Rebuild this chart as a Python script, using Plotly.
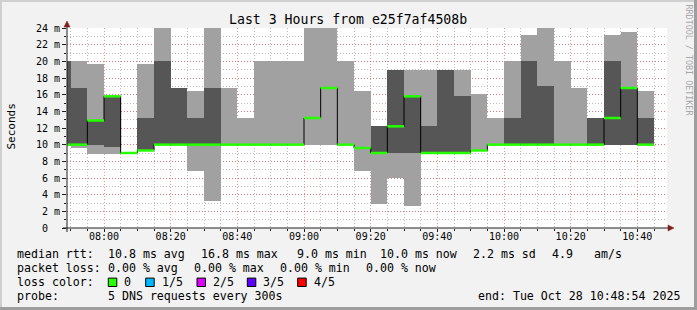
import plotly.graph_objects as go
from datetime import datetime, timedelta

# ---------------- data ----------------
DAY = "2025-10-28"
interval_starts = [
    "07:45", "07:50", "07:55", "08:00", "08:05", "08:10", "08:15", "08:20",
    "08:25", "08:30", "08:35", "08:40", "08:45", "08:50", "08:55", "09:00",
    "09:05", "09:10", "09:15", "09:20", "09:25", "09:30", "09:35", "09:40",
    "09:45", "09:50", "09:55", "10:00", "10:05", "10:10", "10:15", "10:20",
    "10:25", "10:30", "10:35", "10:40",
]
# sorted ping values per 5-minute step (ms): ping1 (min) .. ping5 (max)
ping1 = [10.0, 9.6, 8.9, 8.9, 9.0, 9.3, 10.0, 10.0, 6.8, 3.2, 10.0, 10.0,
         10.0, 10.0, 10.0, 10.0, 10.0, 10.0, 6.8, 2.9, 6.0, 2.7, 9.0, 9.0,
         9.0, 9.3, 10.0, 10.0, 10.0, 10.0, 10.0, 10.0, 10.0, 10.0, 10.0, 10.0]
ping2 = [10.0, 10.0, 10.0, 9.7, 9.0, 9.3, 10.0, 10.0, 10.0, 10.0, 10.0, 10.0,
         10.0, 10.0, 10.0, 13.2, 16.8, 10.0, 9.6, 9.0, 9.0, 9.0, 9.0, 9.0,
         9.0, 9.3, 10.0, 10.0, 10.0, 10.0, 10.0, 10.0, 10.0, 10.0, 10.0, 10.0]
median = [10.0, 10.0, 12.9, 15.8, 9.0, 9.3, 10.0, 10.0, 10.0, 10.0, 10.0, 10.0,
          10.0, 10.0, 10.0, 13.2, 16.8, 10.0, 9.6, 9.0, 12.2, 15.8, 9.0, 9.0,
          9.0, 9.3, 10.0, 10.0, 10.0, 10.0, 10.0, 10.0, 10.0, 13.2, 16.8, 10.0]
ping4 = [20.0, 16.8, 12.9, 15.8, 9.1, 13.2, 20.0, 16.8, 13.2, 16.8, 10.0, 10.0,
         10.0, 10.0, 10.0, 13.2, 16.8, 10.0, 9.6, 12.2, 19.0, 15.8, 12.2, 19.0,
         15.8, 9.3, 10.0, 13.2, 20.0, 17.0, 10.0, 10.0, 13.2, 20.0, 16.8, 13.2]
ping5 = [20.0, 20.0, 19.7, 15.8, 9.1, 19.7, 24.0, 16.8, 16.5, 24.0, 16.8, 13.2,
         20.0, 20.0, 20.0, 24.0, 24.0, 20.0, 16.5, 12.2, 19.0, 19.0, 19.0, 19.0,
         19.0, 16.1, 13.2, 20.0, 23.2, 24.0, 20.0, 16.8, 13.2, 23.2, 23.5, 16.5]

y_ticks = [0, 2, 4, 6, 8, 10, 12, 14, 16, 18, 20, 22, 24]
y_tick_text = ["0\u00a0\u00a0"] + [f"{v} m" for v in y_ticks[1:]]

legend_rows = [
    ("median rtt:", ["10.8 ms avg", "16.8 ms max", "9.0 ms min", "10.0 ms now", "2.2 ms sd", "4.9", "am/s"]),
    ("packet loss:", ["0.00 % avg", "0.00 % max", "0.00 % min", "0.00 % now"]),
]
loss_labels = ["0", "1/5", "2/5", "3/5", "4/5"]
loss_colors = ["#26ff00", "#00b8ff", "#dd00ff", "#5e00ff", "#ff0000"]
probe_text = "5 DNS requests every 300s"
end_text = "end: Tue Oct 28 10:48:54 2025"
title_text = "Last 3 Hours from e25f7af4508b"

# ---------------- geometry helpers ----------------
W, H = 697, 310
L, R, T, B = 67, 30, 28, 82
PW, PH = W - L - R, H - T - B


def PX(x):
    return (x - L) / PW


def PY(y):
    return (T + PH - y) / PH


FONT = "DejaVu Sans Mono"
step = timedelta(minutes=5)
starts = [datetime.strptime(f"{DAY} {t}", "%Y-%m-%d %H:%M") for t in interval_starts]
centers = [s + step / 2 for s in starts]

fig = go.Figure()
fig.add_trace(go.Bar(
    x=centers, y=[b - a for a, b in zip(ping1, ping5)], base=ping1,
    width=step.total_seconds() * 1000,
    marker=dict(color="#a1a1a1", line_width=0), hoverinfo="skip"))
fig.add_trace(go.Bar(
    x=centers, y=[b - a for a, b in zip(ping2, ping4)], base=ping2,
    width=step.total_seconds() * 1000,
    marker=dict(color="#565656", line_width=0), hoverinfo="skip"))
# median connector (black step line)
fig.add_trace(go.Scatter(
    x=starts + [starts[-1] + step], y=median + [median[-1]],
    mode="lines", line=dict(shape="hv", color="#000000", width=1),
    hoverinfo="skip"))
# loss-coloured median segments
gx, gy = [], []
for s, m in zip(starts, median):
    gx += [s, s + step, None]
    gy += [m, m, None]
fig.add_trace(go.Scatter(x=gx, y=gy, mode="lines",
                         line=dict(color=loss_colors[0], width=2.5),
                         hoverinfo="skip"))

grid_dash = "1px,2px"
fig.update_layout(
    width=W, height=H, autosize=False,
    margin=dict(l=L, r=R, t=T, b=B, pad=0),
    paper_bgcolor="#f2f2f2", plot_bgcolor="#ffffff",
    showlegend=False, barmode="overlay", bargap=0,
    font=dict(family=FONT, color="#000000"),
    xaxis=dict(
        type="date",
        range=[f"{DAY} 07:48:54", f"{DAY} 10:48:54"],
        tick0=f"{DAY} 08:00", dtick=20 * 60 * 1000, tickformat="%H:%M",
        showgrid=True, gridcolor="rgba(222,79,79,0.6)", gridwidth=1, griddash=grid_dash,
        ticks="outside", ticklen=3, tickcolor="#1f1f1f", tickwidth=1,
        ticklabelstandoff=-4,
        tickfont=dict(family=FONT, size=10, color="#000000"),
        minor=dict(tick0=f"{DAY} 08:00", dtick=5 * 60 * 1000, showgrid=True,
                   gridcolor="rgba(143,143,143,0.6)", gridwidth=1, griddash=grid_dash,
                   ticks="outside", ticklen=2, tickcolor="#1f1f1f"),
        showline=False, zeroline=False, fixedrange=True,
    ),
    yaxis=dict(
        range=[0, 24], tickvals=y_ticks, ticktext=y_tick_text,
        showgrid=True, gridcolor="rgba(222,79,79,0.6)", gridwidth=1, griddash=grid_dash,
        ticks="outside", ticklen=4, tickcolor="#1f1f1f", tickwidth=1,
        tickfont=dict(family=FONT, size=10, color="#000000"),
        minor=dict(dtick=1, showgrid=True, gridcolor="rgba(143,143,143,0.6)",
                   gridwidth=1, griddash=grid_dash, ticks="outside", ticklen=2,
                   tickcolor="#1f1f1f"),
        showline=False, zeroline=False, fixedrange=True,
    ),
)

shapes = []
# frame shading
shapes.append(dict(type="rect", xref="paper", yref="paper", x0=PX(0), x1=PX(W), y0=PY(0), y1=PY(2),
                   fillcolor="#cfcfcf", line_width=0, layer="above"))
shapes.append(dict(type="rect", xref="paper", yref="paper", x0=PX(0), x1=PX(2), y0=PY(0), y1=PY(H),
                   fillcolor="#cfcfcf", line_width=0, layer="above"))
shapes.append(dict(type="rect", xref="paper", yref="paper", x0=PX(0), x1=PX(W), y0=PY(307), y1=PY(H),
                   fillcolor="#9e9e9e", line_width=0, layer="above"))
shapes.append(dict(type="rect", xref="paper", yref="paper", x0=PX(694), x1=PX(W), y0=PY(0), y1=PY(H),
                   fillcolor="#9e9e9e", line_width=0, layer="above"))
# axes
shapes.append(dict(type="line", xref="paper", yref="paper", x0=PX(63), x1=PX(669), y0=0, y1=0,
                   line=dict(color="#1f1f1f", width=1), layer="above"))
shapes.append(dict(type="line", xref="paper", yref="paper", x0=0, x1=0, y0=PY(232), y1=PY(26),
                   line=dict(color="#1f1f1f", width=1), layer="above"))
# arrows
shapes.append(dict(type="path", xref="paper", yref="paper",
                   path=f"M {PX(67)} {PY(21)} L {PX(64)} {PY(27)} L {PX(70)} {PY(27)} Z",
                   fillcolor="#801f1f", line=dict(color="#801f1f", width=0.5), layer="above"))
shapes.append(dict(type="path", xref="paper", yref="paper",
                   path=f"M {PX(674)} {PY(228)} L {PX(668)} {PY(225)} L {PX(668)} {PY(231)} Z",
                   fillcolor="#801f1f", line=dict(color="#801f1f", width=0.5), layer="above"))

annotations = []


def text(t, x, y, size=11.6, xanchor="left", color="#000000", angle=0):
    annotations.append(dict(text=t, x=PX(x), y=PY(y), xref="paper", yref="paper",
                            xanchor=xanchor, yanchor="middle", showarrow=False,
                            borderpad=0, textangle=angle,
                            font=dict(family=FONT, size=size, color=color)))


text(title_text, 348, 19, size=13.2, xanchor="center")
text("Seconds", 10.5, 127, size=11, xanchor="center", angle=-90)
text("RRDTOOL / TOBI OETIKER", 688.5, 60, size=8.4, xanchor="center", color="#a8a8a8", angle=90)

row_y = [254.3, 268.3, 282.3, 296.3]
row1_x = [107.3, 200, 296, 379.3, 472.3, 551, 593]
row2_x = [107.3, 193.3, 279.3, 365.3]
for (label, items), y, xs in zip(legend_rows, row_y[:2], [row1_x, row2_x]):
    text(label, 16, y)
    for it, x in zip(items, xs):
        text(it, x, y)

text("loss color:", 16, row_y[2])
box_x = [108.3, 145.7, 197.0, 247.3, 297.7]
for lab, col, bx in zip(loss_labels, loss_colors, box_x):
    shapes.append(dict(type="rect", xref="paper", yref="paper",
                       x0=PX(bx), x1=PX(bx + 8.5), y0=PY(row_y[2] - 4.2), y1=PY(row_y[2] + 4.2),
                       fillcolor=col, line=dict(color="#000000", width=1), layer="above"))
    text(lab, bx + 15, row_y[2])

text("probe:", 16, row_y[3])
text(probe_text, 107.3, row_y[3])
text(end_text, 680.5, row_y[3], xanchor="right")

fig.update_layout(shapes=shapes, annotations=annotations)
fig.write_html("out.html")
